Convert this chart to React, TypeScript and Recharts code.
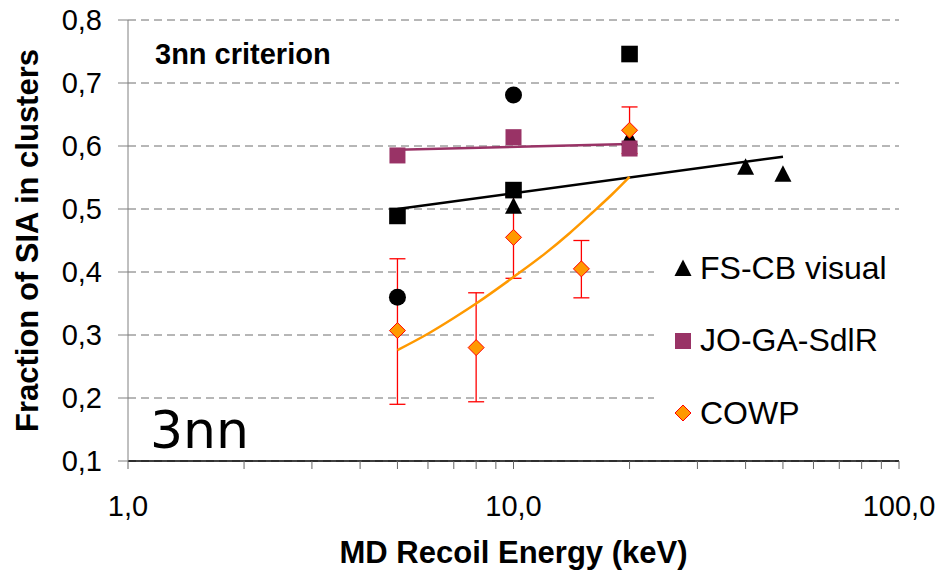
import {
  ComposedChart, Line, Scatter, ErrorBar, XAxis, YAxis, CartesianGrid, Legend, Label,
} from "recharts";

// recoil energy (keV) / fraction of SIA in clusters
const SQ_E = [5, 10, 20];
const SQ_F = [0.489, 0.53, 0.746];
const CIRC_E = [5, 10];
const CIRC_F = [0.36, 0.681];
const FSCB_E = [10, 20, 40, 50];
const FSCB_F = [0.505, 0.614, 0.567, 0.556];
const JO_E = [5, 10, 20];
const JO_F = [0.585, 0.614, 0.596];
const COWP_E = [5, 8, 10, 15, 20];
const COWP_F = [0.307, 0.28, 0.455, 0.405, 0.625];
const COWP_ERR_LO = [0.117, 0.086, 0.065, 0.046, 0.037];
const COWP_ERR_HI = [0.114, 0.087, 0.065, 0.045, 0.037];

// trend lines
const FIT_BLACK_E = [5, 50];
const FIT_BLACK_F = [0.5, 0.583];
const FIT_JO_E = [5, 20];
const FIT_JO_F = [0.594, 0.603];
const FIT_COWP_E = [5, 6, 7, 8, 10, 12, 14, 16, 18, 20];
const FIT_COWP_F = [0.276, 0.302, 0.327, 0.35, 0.392, 0.428, 0.462, 0.494, 0.523, 0.551];

const X_TICKS = [1, 2, 3, 4, 5, 6, 7, 8, 9, 10, 20, 30, 40, 50, 60, 70, 80, 90, 100];
const X_LABELED = [1, 10, 100];
const Y_TICKS = [0.1, 0.2, 0.3, 0.4, 0.5, 0.6, 0.7, 0.8];

const LEGEND = [
  { name: "FS-CB visual", marker: "triangle" },
  { name: "JO-GA-SdlR", marker: "purple" },
  { name: "COWP", marker: "diamond" },
];

const PURPLE = "#993366";
const ORANGE = "#FF9900";
const RED = "#FF0000";
const FONT = "'Liberation Sans', Arial, sans-serif";

const pts = (xs: number[], ys: number[]) => xs.map((x, i) => ({ x, y: ys[i] }));
const comma = (v: number) => v.toFixed(1).replace(".", ",");

function Marker({ kind, cx, cy }: { kind: string; cx: number; cy: number }) {
  if (kind === "square") return <rect x={cx - 8.3} y={cy - 8.3} width={16.6} height={16.6} fill="#000" />;
  if (kind === "purple") return <rect x={cx - 8} y={cy - 8} width={16} height={16} fill={PURPLE} />;
  if (kind === "circle") return <circle cx={cx} cy={cy} r={8.5} fill="#000" />;
  if (kind === "triangle")
    return <path d={`M${cx},${cy - 8.5}L${cx + 8.5},${cy + 8}L${cx - 8.5},${cy + 8}Z`} fill="#000" />;
  return (
    <path d={`M${cx},${cy - 8}L${cx + 8},${cy}L${cx},${cy + 8}L${cx - 8},${cy}Z`}
          fill={ORANGE} stroke={RED} strokeWidth={1} />
  );
}

const shape = (kind: string) => (p: any) => <Marker kind={kind} cx={p.cx} cy={p.cy} />;

function LegendBox() {
  return (
    <div style={{ position: "relative", width: 246, height: 215, background: "#fff" }}>
      {LEGEND.map((l, i) => (
        <div key={l.name} style={{ position: "absolute", left: 0, top: 18 + i * 72.5, height: 40, display: "flex", alignItems: "center" }}>
          <svg width={40} height={40}>
            <Marker kind={l.marker} cx={29} cy={20} />
          </svg>
          <span style={{ marginLeft: 6, fontFamily: FONT, fontSize: 32, color: "#000", whiteSpace: "nowrap" }}>{l.name}</span>
        </div>
      ))}
    </div>
  );
}

export default function App() {
  const cowp = COWP_E.map((x, i) => ({ x, y: COWP_F[i], err: [COWP_ERR_LO[i], COWP_ERR_HI[i]] }));
  return (
    <div style={{ position: "absolute", left: 0, top: 0, width: 940, height: 571, background: "#fff" }}>
      <ComposedChart width={940} height={571} margin={{ top: 20, right: 41, left: 0, bottom: 0 }}>
        <CartesianGrid horizontal vertical={false} stroke="#6e6e6e" strokeDasharray="8 5" />
        <XAxis dataKey="x" type="number" scale="log" domain={[1, 100]} ticks={X_TICKS} interval={0}
               allowDataOverflow height={110} axisLine={{ stroke: "#000", strokeWidth: 1.3 }}
               tickLine={{ stroke: "#666" }} tickSize={8} tickMargin={26}
               tick={{ fill: "#000", fontSize: 29, fontFamily: FONT }}
               tickFormatter={(v: number) => (X_LABELED.includes(v) ? comma(v) : "")}>
          <Label value="MD Recoil Energy (keV)" position="insideBottom" offset={8}
                 style={{ fontFamily: FONT, fontSize: 31, fontWeight: "bold", fill: "#000" }} />
        </XAxis>
        <YAxis type="number" domain={[0.1, 0.8]} ticks={Y_TICKS} allowDataOverflow width={128}
               axisLine={{ stroke: "#808080" }} tickLine={{ stroke: "#808080" }} tickSize={10} tickMargin={16}
               tick={{ fill: "#000", fontSize: 29, fontFamily: FONT }} tickFormatter={comma}>
          <Label content={(p: any) => {
            const vb = p.viewBox;
            const cy = vb.y + vb.height / 2;
            return (
              <text x={27} y={cy} transform={`rotate(-90, 27, ${cy})`} textAnchor="middle" dominantBaseline="central"
                    style={{ fontFamily: FONT, fontSize: 31, fontWeight: "bold", fill: "#000" }}>
                Fraction of SIA in clusters
              </text>
            );
          }} />
        </YAxis>
        <Legend layout="vertical" align="center" verticalAlign="middle" content={() => <LegendBox />}
                wrapperStyle={{ position: "absolute", left: 654, top: 230, width: 246, height: 215 }} />

        <Line data={pts(FIT_BLACK_E, FIT_BLACK_F)} dataKey="y" type="linear" stroke="#000" strokeWidth={2.5}
              dot={false} activeDot={false} isAnimationActive={false} legendType="none" />
        <Line data={pts(FIT_JO_E, FIT_JO_F)} dataKey="y" type="linear" stroke={PURPLE} strokeWidth={2.5}
              dot={false} activeDot={false} isAnimationActive={false} legendType="none" />

        <Scatter data={pts(FSCB_E, FSCB_F)} dataKey="y" shape={shape("triangle")} isAnimationActive={false} />
        <Scatter data={pts(JO_E, JO_F)} dataKey="y" shape={shape("purple")} isAnimationActive={false} />
        <Scatter data={cowp} dataKey="y" shape={shape("diamond")} isAnimationActive={false}>
          <ErrorBar dataKey="err" direction="y" width={8} stroke={RED} strokeWidth={1.3}
                    style={{ stroke: RED }} isAnimationActive={false} />
        </Scatter>
        <Scatter data={pts(SQ_E, SQ_F)} dataKey="y" shape={shape("square")} isAnimationActive={false} />
        <Scatter data={pts(CIRC_E, CIRC_F)} dataKey="y" shape={shape("circle")} isAnimationActive={false} />

        <Line data={pts(FIT_COWP_E, FIT_COWP_F)} dataKey="y" type="monotone" stroke={ORANGE} strokeWidth={2.5}
              dot={false} activeDot={false} isAnimationActive={false} legendType="none" />
      </ComposedChart>
      <svg width={940} height={571} style={{ position: "absolute", left: 0, top: 0, pointerEvents: "none" }}>
        <text x={155} y={64} style={{ fontFamily: FONT, fontSize: 29, fontWeight: "bold" }}>3nn criterion</text>
        <text x={150} y={448} style={{ fontFamily: "'DejaVu Sans', sans-serif", fontSize: 52 }}>3nn</text>
      </svg>
    </div>
  );
}
